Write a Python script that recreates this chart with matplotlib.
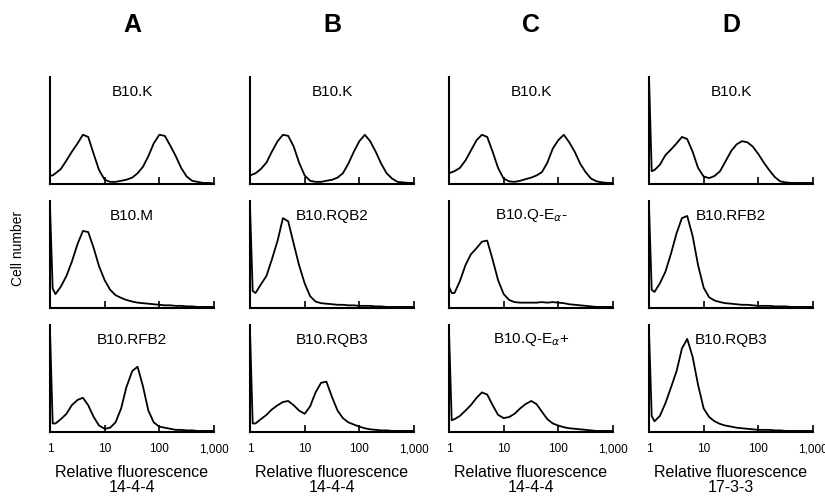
import matplotlib
matplotlib.use("Agg")
from matplotlib import pyplot as plt

plt.rcParams['font.family'] = ['Liberation Sans', 'DejaVu Sans']

# fluorescence channels (shared by every histogram)
fluor = [1.0, 1.12, 1.26, 1.58, 2.0, 2.5, 3.2, 4.0, 5.0, 6.3, 7.9, 10, 12.6, 15.8, 20, 25,
         32, 40, 50, 63, 79, 100, 126, 158, 200, 251, 316, 398, 501, 631, 794, 1000]

# cell counts, % of panel height
a_k = [8, 8, 10, 14, 22, 30, 38, 46, 44, 28, 13, 4, 2, 2, 3, 4, 6, 10, 16, 26, 38, 46, 45, 36, 26, 15, 7, 3, 2, 1, 1, 0.5]
a_m = [95, 18, 13, 20, 30, 43, 60, 72, 71, 56, 39, 26, 17, 12, 9.5, 7.5, 6, 5, 4.5, 4, 3.5, 3, 2.5, 2.5, 2, 2, 1.5, 1.5, 1, 1, 1, 1]
a_rfb2 = [95, 8, 8, 12, 17, 25, 30, 32, 25, 14, 6, 3, 4, 9, 22, 42, 57, 61, 43, 20, 9, 5, 4, 3, 2, 2, 1.5, 1.5, 1, 1, 1, 1]

b_k = [8, 9, 10, 14, 20, 30, 40, 46, 45, 35, 20, 8, 3, 2, 2, 3, 4, 6, 10, 19, 30, 40, 46, 40, 30, 19, 10, 5, 2, 1.5, 1, 1]
b_rqb2 = [95, 16, 14, 22, 30, 45, 63, 84, 81, 60, 40, 23, 11, 6, 4.5, 4, 3.5, 3, 3, 2.5, 2.5, 2, 2, 2, 1.5, 1.5, 1, 1, 1, 1, 1, 1]
b_rqb3 = [95, 8, 8, 12, 16, 21, 25, 28, 29, 25, 20, 17, 24, 37, 46, 47, 32, 20, 13, 9, 7, 5, 3.5, 2.5, 2, 1.5, 1.5, 1, 1, 1, 1, 1]

c_k = [10, 11, 12, 15, 22, 31, 41, 46, 44, 30, 15, 5, 2.5, 2, 3, 4.5, 6, 8, 11, 20, 33, 41, 46, 39, 30, 19, 11, 5, 2.5, 1.5, 1, 1]
c_qneg = [20, 14, 14, 25, 40, 50, 56, 62, 63, 45, 26, 13, 7.5, 5.5, 5, 5, 5, 5, 5.5, 5, 5.5, 5, 4.5, 3.5, 3, 2.5, 2, 1.5, 1, 1, 1, 1]
c_qpos = [95, 11, 12, 15, 20, 25, 32, 37, 35, 25, 16, 13, 14, 17, 22, 26, 29, 26, 19, 12, 8, 6, 4.5, 3.5, 3, 2.5, 2, 1.5, 1, 1, 1, 1]

d_k = [100, 12, 13, 18, 27, 32, 38, 44, 42, 30, 15, 7, 5.5, 7.5, 12, 21, 31, 37, 40, 39, 35, 28, 20, 13, 6.5, 2.5, 1.5, 1, 1, 1, 1, 1]
d_rfb2 = [95, 17, 15, 23, 34, 50, 70, 84, 86, 67, 40, 19, 10, 7, 5.5, 4.5, 4, 3.5, 3, 3, 2.5, 2, 2, 2, 1.5, 1.5, 1.5, 1, 1, 1, 1, 1]
d_rqb3 = [95, 15, 10, 15, 27, 41, 57, 78, 87, 70, 44, 22, 14, 10, 7.5, 6, 5, 4, 3.5, 3, 2.5, 2, 2, 2, 1.5, 1.5, 1, 1, 1, 1, 1, 1]

columnas = ["A", "B", "C", "D"]
anticuerpos = ["14-4-4", "14-4-4", "14-4-4", "17-3-3"]
nombres = [["B10.K", "B10.M", "B10.RFB2"],
           ["B10.K", "B10.RQB2", "B10.RQB3"],
           ["B10.K", r"B10.Q-E$_\alpha$-", r"B10.Q-E$_\alpha$+"],
           ["B10.K", "B10.RFB2", "B10.RQB3"]]
curvas = [[a_k, a_m, a_rfb2],
          [b_k, b_rqb2, b_rqb3],
          [c_k, c_qneg, c_qpos],
          [d_k, d_rfb2, d_rqb3]]
ticks = [1, 10, 100, 1000]
tick_labels = ["1", "10", "100", "1,000"]

W, H = 825, 497
fig = plt.figure(figsize=(W / 100, H / 100), dpi=100)

col_left = [50, 250, 449, 649]
row_top = [77, 201, 325]
ancho, alto = 164, 107


def rect(l, t, w, h):
    return [l / W, 1 - (t + h) / H, w / W, h / H]


for i in range(4):
    for j in range(3):
        ax = fig.add_axes(rect(col_left[i], row_top[j], ancho, alto))
        ax.plot(fluor, curvas[i][j], color="black", lw=1.3)
        ax.set_xscale("log")
        ax.set_xlim(1, 1000)
        ax.set_ylim(0, 100)
        ax.spines["top"].set_visible(False)
        ax.spines["right"].set_visible(False)
        ax.spines["left"].set_linewidth(1.5)
        ax.spines["bottom"].set_linewidth(1.5)
        ax.set_yticks([])
        ax.set_xticks(ticks)
        ax.minorticks_off()
        ax.tick_params(axis="x", direction="in", length=5, width=1.2, pad=8)
        ax.text(0.5, 0.86, nombres[i][j], transform=ax.transAxes,
                ha="center", va="center", fontsize=11)
        if j == 2:
            ax.set_xticklabels(tick_labels, fontsize=8.5)
            ax.set_xlabel("Relative fluorescence\n" + anticuerpos[i],
                          fontsize=11.5, linespacing=1.05, labelpad=7)
        else:
            ax.set_xticklabels([])
    fig.text((col_left[i] + ancho / 2) / W, 1 - 25 / H, columnas[i],
             ha="center", va="center", fontsize=18, fontweight="heavy")

fig.text(18 / W, 1 - 248 / H, "Cell number", rotation=90,
         ha="center", va="center", fontsize=10)

fig.savefig("out.png", dpi=100)
